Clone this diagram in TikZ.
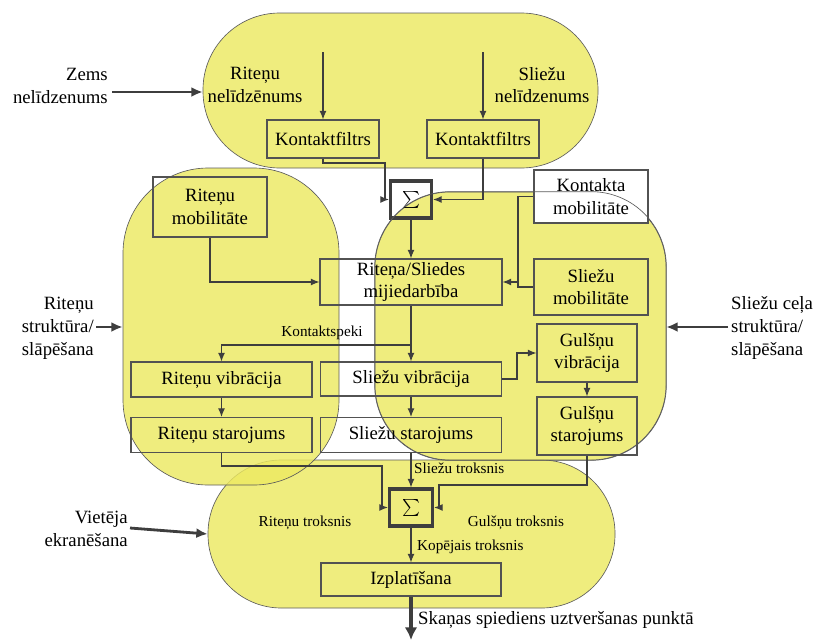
\documentclass[tikz,border=0pt]{standalone}
\usepackage{fontspec}
\setmainfont{Liberation Serif}
\usetikzlibrary{arrows.meta}
\definecolor{regionfill}{RGB}{236,233,98}
\definecolor{edge}{RGB}{62,62,62}
\definecolor{boxedge}{RGB}{82,82,82}
\newcommand{\bigfont}{\fontsize{16pt}{19.5pt}\selectfont}
\newcommand{\smallfont}{\fontsize{13pt}{15pt}\selectfont}
\newcommand{\sumsign}{\scalebox{1.45}{$\sum$}}
\begin{document}
\begin{tikzpicture}[x=0.03cm,y=-0.03cm,
  sz/.style 2 args={minimum width=#1*0.03cm, minimum height=#2*0.03cm},
  region/.style={fill=regionfill, fill opacity=0.82, draw=edge!85, line width=0.55pt, inner sep=0pt},
  box/.style={draw=boxedge, line width=0.9pt, inner sep=0pt, align=center, font=\bigfont, text=black},
  sumbox/.style={draw=edge, line width=2.6pt, inner sep=0pt, font=\bigfont},
  lbl/.style={inner sep=0pt, font=\bigfont, text=black},
  slbl/.style={inner sep=0pt, font=\smallfont, text=black},
  conn/.style={draw=edge, line width=1pt, -{Latex[length=0.26cm,width=0.21cm]}},
  line/.style={draw=edge, line width=1pt},
  feed/.style={draw=edge, line width=2.4pt, -{Latex[length=0.34cm,width=0.3cm]}},
  outarrow/.style={draw=edge, line width=3.2pt, -{Latex[length=0.38cm,width=0.38cm]}}
]
\useasboundingbox (0,0) rectangle (813,640);

% coloured regions
\node[region, sz={407}{148}, rounded corners=2.2cm] (bot) at (411.5,534) {};
\node[region, sz={216}{317}, rounded corners=2.55cm] (lft) at (231,326.5) {};
\node[region, sz={291}{268}, rounded corners=2.25cm] (rgt) at (520.5,326) {};
\node[region, sz={395}{155}, rounded corners=2.3cm] (top) at (400.5,90.5) {};

% blocks
\node[box, sz={112}{38}] (kf1) at (323,139) {Kontaktfiltrs};
\node[box, sz={112}{38}] (kf2) at (483,139) {Kontaktfiltrs};
\node[sumbox, sz={41}{37}] (s1) at (411,199.5) {\sumsign};
\node[box, sz={114}{60}] (rmob) at (210,207) {Riteņu\\mobilitāte};
\node[box, fill=white, sz={114}{53}] (kmob) at (591,196.5) {Kontakta\\mobilitāte};
\draw[draw=edge!85, line width=0.55pt, rounded corners=2.25cm] (rgt.south west) rectangle (rgt.north east);
\node[box, sz={182}{46}] (mij) at (411,282) {Riteņa/Sliedes\\mijiedarbība};
\node[box, sz={114}{56}] (smob) at (591,287) {Sliežu\\mobilitāte};
\node[box, sz={181}{35}] (rvib) at (221.5,379.5) {Riteņu vibrācija};
\node[box, sz={181}{34}] (svib) at (411,379) {Sliežu vibrācija};
\node[box, sz={100}{58}] (gvib) at (587,353) {Gulšņu\\vibrācija};
\node[box, sz={181}{35}] (rstar) at (221.5,435) {Riteņu starojums};
\node[box, sz={181}{35}] (sstar) at (411,435) {Sliežu starojums};
\node[box, sz={100}{58}] (gstar) at (587,426) {Gulšņu\\starojums};
\node[sumbox, sz={43}{37}] (s2) at (411,507.5) {\sumsign};
\node[box, sz={180}{33}] (izpl) at (411,579.5) {Izplatīšana};

% texts
\node[lbl, align=center] (rn) at (255,85) {Riteņu\\nelīdzēnums};
\node[lbl, align=center] (sn) at (542,85) {Sliežu\\nelīdzenums};
\node[lbl, align=right, anchor=east] (zems) at (108,86) {Zems\\nelīdzenums};
\node[lbl, align=right, anchor=east] (rs) at (94,328) {Riteņu\\struktūra/\\slāpēšana};
\node[lbl, align=left, anchor=west] (sc) at (731,328) {Sliežu ceļa\\struktūra/\\slāpēšana};
\node[lbl, align=right, anchor=east] (ve) at (128,529) {Vietēja\\ekranēšana};
\node[slbl] (ks) at (322,333) {Kontaktspeki};
\node[slbl, anchor=west] (st) at (414,468) {Sliežu troksnis};
\node[slbl] (rt) at (305,523) {Riteņu troksnis};
\node[slbl] (gt) at (516,523) {Gulšņu troksnis};
\node[slbl, anchor=west] (kt) at (417,547) {Kopējais troksnis};
\node[lbl, anchor=west] (out) at (418,620) {Skaņas spiediens uztveršanas punktā};

% free ends
\coordinate (in1) at (323,52);
\coordinate (in2) at (483,52);
\coordinate (zemsA) at (112,92);
\coordinate (rsA) at (96,327);
\coordinate (scA) at (728,327);
\coordinate (veA) at (130,528);
\coordinate (outEnd) at (411,640);
\coordinate (kj) at (518,287);

% connectors in the upper region
\draw[conn] (in1) -- (kf1.north);
\draw[conn] (in2) -- (kf2.north);
\draw[conn] (kf1.south) |- (385,163) |- (s1.west);
\draw[conn] (kf2.south) |- (s1.east);
\draw[conn] (s1.south) -- (mij.north);
\draw[conn] (rmob.south) |- (mij.west);
\draw[line] (kmob.west) -| (kj) -- (smob.west);
\draw[conn] (kj |- mij.east) -- (mij.east);

% contact forces and vibrations
\draw[conn] (mij.south) -- (svib.north);
\draw[conn] (411,345) -| (rvib.north);
\draw[conn] (rvib.south) -- (rstar.north);
\draw[conn] (svib.south) -- (sstar.north);
\draw[conn] (svib.east) -| (517,353) -- (gvib.west);
\draw[conn] (gvib.south) -- (gstar.north);

% noise summation
\draw[conn] (sstar.south) -- (s2.north);
\draw[conn] (rstar.south) |- (382,466) |- (s2.west);
\draw[conn] (gstar.south) |- (439,485) |- (s2.east);
\draw[conn] (s2.south) -- (izpl.north);
\draw[outarrow] (izpl.south) -- (outEnd);

% external influences
\draw[feed] (zemsA) -- (zemsA -| top.west);
\draw[feed] (rsA) -- (rsA -| lft.west);
\draw[feed] (scA) -- (scA -| rgt.east);
\draw[feed] (veA) -- (bot.west);
\end{tikzpicture}
\end{document}
